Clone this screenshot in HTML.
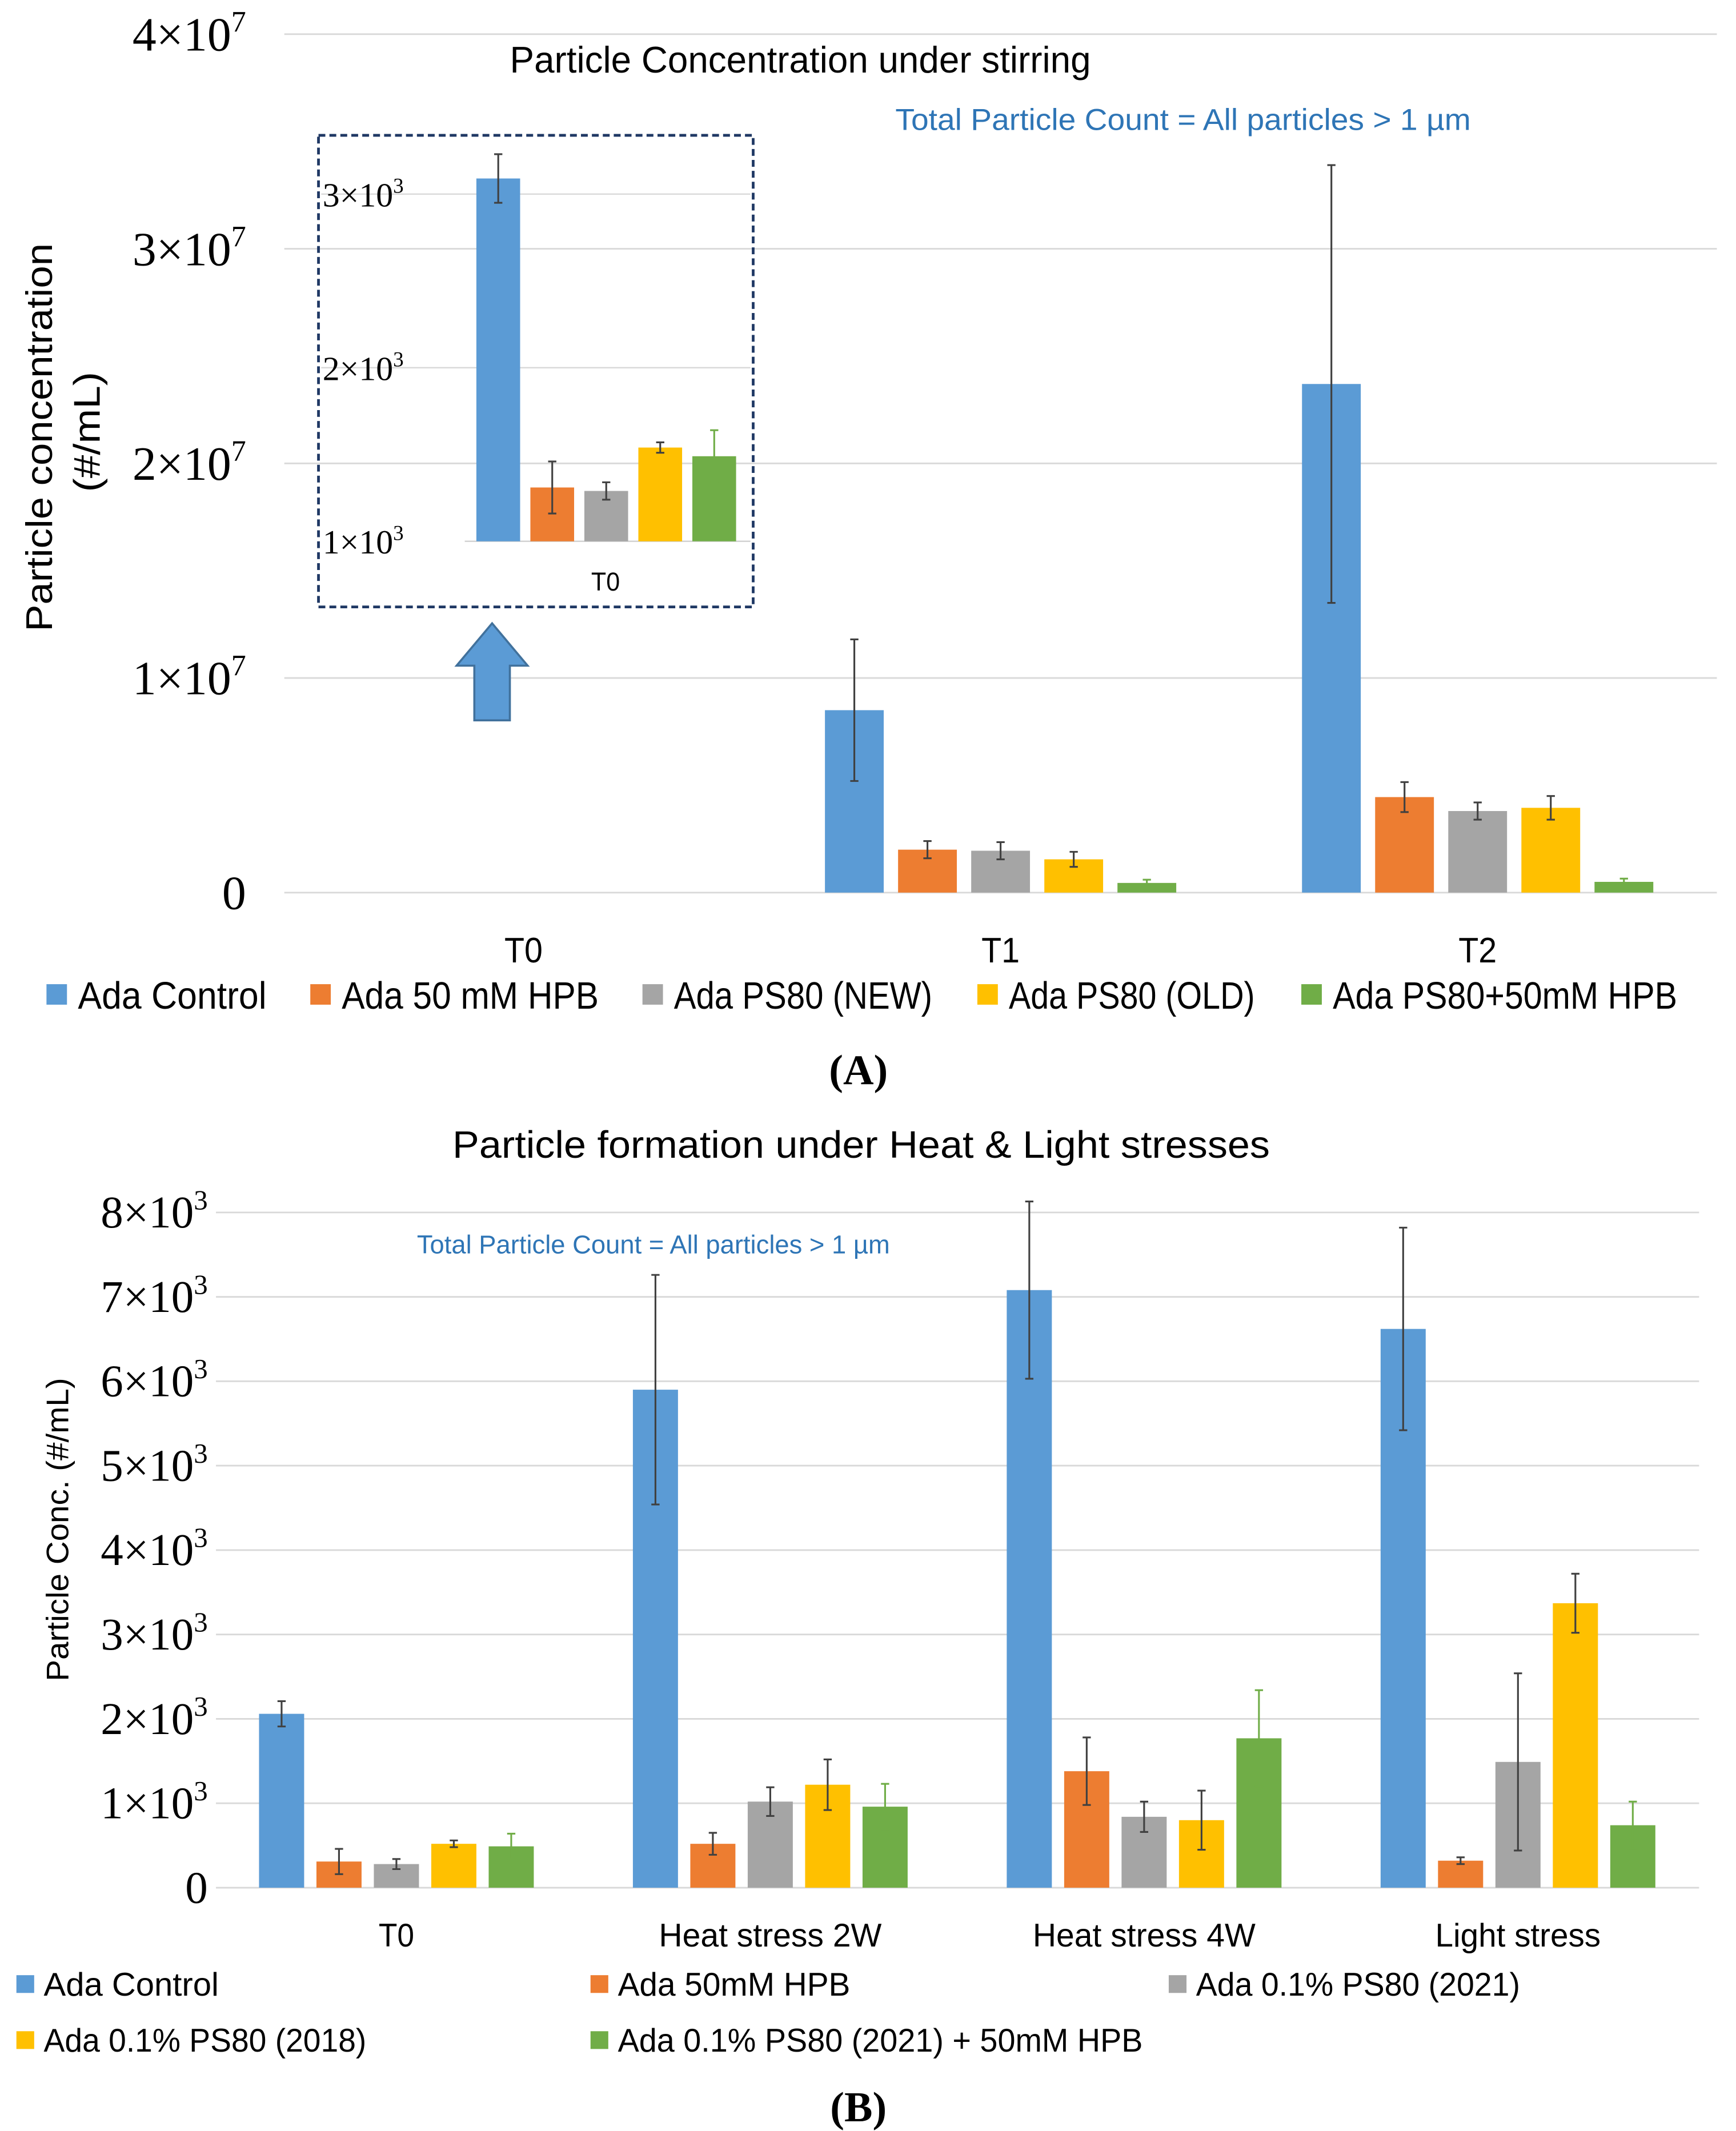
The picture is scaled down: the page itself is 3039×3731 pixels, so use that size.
<!DOCTYPE html>
<html><head><meta charset="utf-8"><style>
html,body{margin:0;padding:0;background:#fff}
svg{display:block}
text{font-family:"Liberation Sans",sans-serif}
.serif{font-family:"Liberation Serif",serif}
</style></head><body>
<svg id="s" width="3039" height="3731" viewBox="0 0 1270 1559" preserveAspectRatio="none" xmlns="http://www.w3.org/2000/svg">
<rect width="1270" height="1559" fill="#fff"/>
<g id="A"></g>
<g id="B"></g>
</svg>
<script>
// ---------- Data: chart A ----------
const catsA = ["T0","T1","T2"];
const seriesA = ["Ada Control","Ada 50 mM HPB","Ada PS80 (NEW)","Ada PS80 (OLD)","Ada PS80+50mM HPB"];
const valsA_control = [0, 8.5e6, 2.37e7];
const valsA_hpb = [0, 2.0e6, 4.45e6];
const valsA_new = [0, 1.95e6, 3.8e6];
const valsA_old = [0, 1.55e6, 3.95e6];
const valsA_mix = [0, 0.45e6, 0.5e6];
const errA_control = [0, 3.3e6, 1.02e7];
const errA_hpb = [0, 0.4e6, 0.7e6];
const errA_new = [0, 0.4e6, 0.4e6];
const errA_old = [0, 0.35e6, 0.55e6];
const errA_mix = [0, 0.15e6, 0.15e6];
const ticksA = [0, 1e7, 2e7, 3e7, 4e7];
const tickLabelsA = [["0",""],["1×10","7"],["2×10","7"],["3×10","7"],["4×10","7"]];
// inset (T0)
const insetVals = [3.09e3, 1.31e3, 1.29e3, 1.54e3, 1.49e3];
const insetErr = [0.14e3, 0.15e3, 0.05e3, 0.03e3, 0.15e3];
const insetTicks = [1e3, 2e3, 3e3];
// ---------- Data: chart B ----------
const catsB = ["T0","Heat stress 2W","Heat stress 4W","Light stress"];
const seriesB = ["Ada Control","Ada 50mM HPB","Ada 0.1% PS80 (2021)","Ada 0.1% PS80 (2018)","Ada 0.1% PS80 (2021) + 50mM HPB"];
const valsB_control = [2.06e3, 5.9e3, 7.08e3, 6.62e3];
const valsB_hpb = [0.31e3, 0.52e3, 1.38e3, 0.32e3];
const valsB_2021 = [0.28e3, 1.02e3, 0.84e3, 1.49e3];
const valsB_2018 = [0.52e3, 1.22e3, 0.80e3, 3.37e3];
const valsB_mix = [0.49e3, 0.96e3, 1.77e3, 0.74e3];
const errB_control = [0.15e3, 1.36e3, 1.05e3, 1.2e3];
const errB_hpb = [0.15e3, 0.13e3, 0.4e3, 0.04e3];
const errB_2021 = [0.06e3, 0.17e3, 0.18e3, 1.05e3];
const errB_2018 = [0.04e3, 0.3e3, 0.35e3, 0.35e3];
const errB_mix = [0.15e3, 0.27e3, 0.57e3, 0.28e3];
const ticksB = [0,1e3,2e3,3e3,4e3,5e3,6e3,7e3,8e3];

const colors = ["#5b9bd5","#ed7d31","#a5a5a5","#ffc000","#70ad47"];
const NS="http://www.w3.org/2000/svg";
function el(parent, tag, attrs, text){
  const e=document.createElementNS(NS,tag);
  for(const k in attrs) e.setAttribute(k,attrs[k]);
  if(attrs.textLength) e.setAttribute("lengthAdjust","spacingAndGlyphs");
  if(text!==undefined) e.textContent=text;
  parent.appendChild(e); return e;
}
function supLabel(parent, x, y, base, sup, size, anchor){
  const t=el(parent,"text",{x:x,y:y,"font-size":size,"text-anchor":anchor||"end",class:"serif",fill:"#000"});
  const a=document.createElementNS(NS,"tspan"); a.textContent=base; t.appendChild(a);
  if(sup){const b=document.createElementNS(NS,"tspan"); b.setAttribute("dy",-size*0.4); b.setAttribute("font-size",size*0.62); b.textContent=sup; t.appendChild(b);}
  return t;
}
function errBar(g, cx, yT, yB, col){
  return el(g,"path",{d:`M${cx},${yT}V${yB}M${cx-3},${yT}H${cx+3}M${cx-3},${yB}H${cx+3}`,stroke:col,"stroke-width":1.3,fill:"none"});
}

// ===== Chart A =====
const A=document.getElementById("A");
const yA=v=>653-v/1e7*157;
const xA=i=>383+i*349;
ticksA.forEach((t,i)=>{
  const l=el(A,"line",{x1:208,x2:1256,y1:yA(t),y2:yA(t),stroke:"#d9d9d9","stroke-width":1.2});
  
  
  const lb=supLabel(A,180,yA(t)+12,tickLabelsA[i][0],tickLabelsA[i][1],35);
  
  
});
const valsA=[valsA_control,valsA_hpb,valsA_new,valsA_old,valsA_mix];
const errA=[errA_control,errA_hpb,errA_new,errA_old,errA_mix];
catsA.forEach((c,ci)=>{
  valsA.forEach((vs,si)=>{
    const cx=xA(ci)+(si-2)*53.5;
    if(vs[ci]>0){
      const r=el(A,"rect",{x:cx-21.5,y:yA(vs[ci]),width:43,height:653-yA(vs[ci]),fill:colors[si]});
      
      
      const e=errBar(A,cx,yA(vs[ci]+errA[si][ci]),yA(vs[ci]-errA[si][ci]),si===4?"#70ad47":"#404040");
      
      
    }
  });
  const t=el(A,"text",{x:xA(ci),y:704,"font-size":26,"text-anchor":"middle",textLength:28},c);
  
  
});
// inset
const yI=v=>396-(v-1e3)/1e3*127;
insetTicks.forEach(t=>{
  if(t>1e3){const l=el(A,"line",{x1:235,x2:549,y1:yI(t),y2:yI(t),stroke:"#d9d9d9","stroke-width":1});
  
  }
  const lb=supLabel(A,236,yI(t)+9,(t/1e3)+"×10","3",25,"start");
  
  
});
el(A,"line",{x1:340,x2:549,y1:396,y2:396,stroke:"#d0d0d0","stroke-width":1});
insetVals.forEach((v,si)=>{
  const cx=364.5+si*39.5;
  const r=el(A,"rect",{x:cx-16,y:yI(v),width:32,height:396-yI(v),fill:colors[si]});
  
  
  const e=errBar(A,cx,yI(v+insetErr[si]),yI(v-insetErr[si]),si===4?"#70ad47":"#404040");
  
  
});
const ib=el(A,"rect",{x:233,y:99,width:318,height:345,fill:"none",stroke:"#1f3864","stroke-width":2,"stroke-dasharray":"5,3"});


const it=el(A,"text",{x:443,y:432,"font-size":19,"text-anchor":"middle",textLength:21},"T0");


const ar=el(A,"path",{d:"M360,456 L386,487 L373,487 L373,527 L347,527 L347,487 L334,487 Z",fill:"#5b9bd5",stroke:"#41719c","stroke-width":1.5});


const tA=el(A,"text",{x:373,y:53,"font-size":27,textLength:425},"Particle Concentration under stirring");


const nA=el(A,"text",{x:655,y:95,"font-size":22,fill:"#2e75b6",textLength:421},"Total Particle Count = All particles > 1 µm");


const yt1=el(A,"text",{x:0,y:0,"font-size":27,"text-anchor":"middle",textLength:284,transform:"translate(38,320) rotate(-90)"},"Particle concentration");


const yt2=el(A,"text",{x:0,y:0,"font-size":27,"text-anchor":"middle",textLength:88,transform:"translate(73,316) rotate(-90)"},"(#/mL)");


const legAx=[34,227,470,715,952];
const legAw=[138,188,189,180,252];
seriesA.forEach((s,i)=>{
  const g=el(A,"g",{});
  
  
  el(g,"rect",{x:legAx[i],y:720,width:15,height:15,fill:colors[i]});
  el(g,"text",{x:legAx[i]+23,y:738,"font-size":28,textLength:legAw[i]},s);
});
const la=el(A,"text",{x:628,y:793,"font-size":31,"font-weight":"bold","text-anchor":"middle",class:"serif"},"(A)");



// ===== Chart B =====
const B=document.getElementById("B");
const yB=v=>1381-v/1e3*61.75;
const xB=i=>290+i*273.5;
ticksB.forEach((t,i)=>{
  const l=el(B,"line",{x1:158,x2:1243,y1:yB(t),y2:yB(t),stroke:"#d9d9d9","stroke-width":1.2});
  
  
  const lb=supLabel(B,152,yB(t)+11,i===0?"0":(t/1e3)+"×10",i===0?"":"3",33);
  
  
});
const valsB=[valsB_control,valsB_hpb,valsB_2021,valsB_2018,valsB_mix];
const errB=[errB_control,errB_hpb,errB_2021,errB_2018,errB_mix];
const catWB=[26,163,163,121];
catsB.forEach((c,ci)=>{
  valsB.forEach((vs,si)=>{
    const cx=xB(ci)+(si-2)*42;
    const r=el(B,"rect",{x:cx-16.5,y:yB(vs[ci]),width:33,height:1381-yB(vs[ci]),fill:colors[si]});
    
    
    const e=errBar(B,cx,yB(vs[ci]+errB[si][ci]),yB(vs[ci]-errB[si][ci]),si===4?"#70ad47":"#404040");
    
    
  });
  const t=el(B,"text",{x:xB(ci),y:1424,"font-size":24,"text-anchor":"middle",textLength:catWB[ci]},c);
  
  
});
const tB=el(B,"text",{x:331,y:847,"font-size":28,textLength:598},"Particle formation under Heat & Light stresses");


const nB=el(B,"text",{x:305,y:917,"font-size":19,fill:"#2e75b6",textLength:346},"Total Particle Count = All particles > 1 µm");


const ytb=el(B,"text",{x:0,y:0,"font-size":23,"text-anchor":"middle",textLength:222,transform:"translate(50,1119) rotate(-90)"},"Particle Conc. (#/mL)");


const legB=[[12,1452],[432,1452],[855,1452],[12,1493],[432,1493]];
const legBw=[128,170,237,236,384];
seriesB.forEach((s,i)=>{
  const g=el(B,"g",{});
  
  
  el(g,"rect",{x:legB[i][0],y:legB[i][1]-7,width:13,height:13,fill:colors[i]});
  el(g,"text",{x:legB[i][0]+20,y:legB[i][1]+8,"font-size":24,textLength:legBw[i]},s);
});
const lbb=el(B,"text",{x:628,y:1552,"font-size":31,"font-weight":"bold","text-anchor":"middle",class:"serif"},"(B)");


</script>
</body></html>
